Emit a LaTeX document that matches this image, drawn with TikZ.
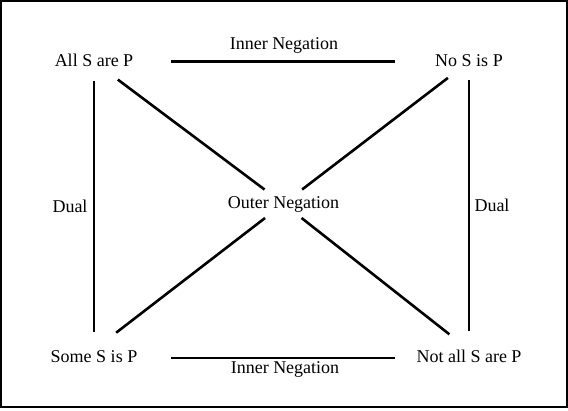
\documentclass[tikz,border=0pt]{standalone}
\usepackage{fontspec}
\setmainfont{Liberation Serif}
\usepackage{tikz}

\begin{document}
\begin{tikzpicture}[x=1pt,y=-1pt,
        every node/.style={font=\fontsize{18}{21.6}\selectfont,text height=12.5pt,text depth=4pt},
        stmt/.style={inner sep=0pt,outer sep=0pt},
        rel/.style={inner sep=0pt},
        link/.style={line width=2.6pt}]
            \useasboundingbox (0,0) rectangle (568,410);
            \draw[line width=2pt] (1,1) rectangle (567,407);

            \node[stmt] (all) at (94, 61.75) {All S are P};
            \node[stmt] (no) at (469, 61.75) {No S is P};
            \node[stmt] (some) at (94, 358) {Some S is P};
            \node[stmt] (notall) at (469, 358) {Not all S are P};
            \node[inner sep=6pt,outer sep=0pt] (out) at (283.5, 203.75) {Outer Negation};

            \node[rel] (inTop) at (284, 45.5) {Inner Negation};
            \node[rel] (inBot) at (285, 368.75) {Inner Negation};
            \node[rel] (dualL) at (70, 207.75) {Dual};
            \node[rel] (dualR) at (492, 207.5) {Dual};

            \draw[link, shorten <=38pt, shorten >=40pt] (all) -- (no);
            \draw[link, shorten <=34pt, shorten >=21.5pt] (some) -- (notall);
            \draw[link, shorten <=11pt, shorten >=18pt] (all) -- (some);
            \draw[link, shorten <=10pt, shorten >=19pt] (no) -- (notall);

            \draw[link, shorten <=16pt] (all) -- (out);
            \draw[link, shorten >=25pt] (out) -- (notall.north);
            \draw[link, shorten <=13pt] (no) -- (out);
            \draw[link, shorten >=28pt] (out) -- (some.north);
        \end{tikzpicture}
\end{document}
